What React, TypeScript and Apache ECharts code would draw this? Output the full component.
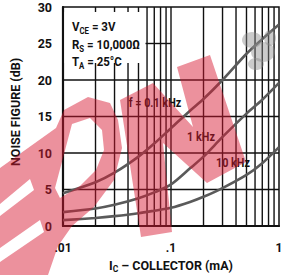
import { useEffect, useRef } from 'react';
import * as echarts from 'echarts';

// Collector current (mA) sample points
const currentMA = [0.01, 0.02, 0.03, 0.05, 0.07, 0.1, 0.15, 0.2, 0.3, 0.5, 0.7, 1];
// Noise figure (dB) per frequency
const nf01kHz = [4.5, 6.0, 7.3, 9.5, 11.3, 13.4, 15.8, 17.4, 20.0, 23.6, 25.6, 27.6];
const nf1kHz = [1.9, 2.4, 2.9, 3.8, 4.6, 5.7, 7.9, 9.5, 12.2, 15.4, 17.3, 19.6];
const nf10kHz = [0.8, 1.1, 1.35, 1.75, 2.1, 2.5, 3.3, 4.0, 5.2, 7.0, 8.6, 10.8];

// grid values
const xGridLines = [0.02, 0.03, 0.04, 0.05, 0.06, 0.07, 0.08, 0.09, 0.1, 0.2, 0.3, 0.4, 0.5, 0.6, 0.7, 0.8, 0.9];
const yGridFull = [5, 10, 15, 20];
const yGridPartial = { value: 25, from: 0.057, to: 0.1 };
const xTickLabels: Record<string, string> = { '-2': '.01', '-1': '.1', '0': '1' };

const FONT = "Roboto,'Liberation Sans',Arial,sans-serif";
const INK = '#111';
const CURVE = '#5a5a5a';
const WM = 'rgb(215,25,50)';
const WM_OP = 0.48;

const toPts = (ys: number[]) => currentMA.map((x, i) => [x, ys[i]]);

// grid line segments [x1, y1, x2, y2] built from the grid value lists
const gridSegments = [
  ...xGridLines.map((v) => [v, 0, v, 30]),
  ...yGridFull.map((v) => [0.01, v, 1, v]),
  [yGridPartial.from, yGridPartial.value, yGridPartial.to, yGridPartial.value],
];

export default function App() {
  const ref = useRef<HTMLDivElement>(null);
  useEffect(() => {
    document.body.style.margin = '0';
    const chart = echarts.init(ref.current!, undefined, { renderer: 'svg' });
    const rich = {
      a: { fontFamily: FONT, fontWeight: 'bold', fontSize: 12.5, lineHeight: 16, color: INK },
      s: { fontFamily: FONT, fontWeight: 'bold', fontSize: 8.5, lineHeight: 8, verticalAlign: 'bottom', color: INK },
    };
    const curveSeries = (name: string, ys: number[]) => ({
      name,
      type: 'line',
      data: toPts(ys),
      smooth: 0.3,
      showSymbol: false,
      z: 4,
      lineStyle: { color: CURVE, width: 2.6 },
    });
    const txt = (text: string, x: number, y: number) => ({
      type: 'text',
      x,
      y,
      z: 11,
      scaleX: 0.92,
      silent: true,
      style: {
        text,
        rich,
        font: `bold 12.5px ${FONT}`,
        fill: INK,
        align: 'left',
        verticalAlign: 'middle',
      },
    });
    const center = (text: string, x: number, y: number, rotation = 0, size = 12, sx = 0.9) => ({
      type: 'text',
      x,
      y,
      z: 11,
      rotation,
      scaleX: sx,
      silent: true,
      style: {
        text,
        font: `bold ${size}px ${FONT}`,
        fill: INK,
        align: 'center',
        verticalAlign: 'middle',
      },
    });
    const poly = (points: number[][]) => ({
      type: 'polygon',
      z: 20,
      silent: true,
      shape: { points },
      style: { fill: WM, opacity: WM_OP },
    });
    const blob = (cx: number, cy: number, rx: number, ry: number) => ({
      type: 'ellipse',
      z: 19,
      silent: true,
      shape: { cx, cy, rx, ry },
      style: { fill: '#8c8c8c', opacity: 0.45 },
    });

    const option = {
      animation: false,
      grid: {
        left: 63,
        right: 2,
        top: 7,
        bottom: 49,
        containLabel: false,
        outerBoundsMode: 'none',
        show: true,
        backgroundColor: 'transparent',
        borderColor: INK,
        borderWidth: 1.5,
      },
      xAxis: {
        type: 'log',
        logBase: 10,
        min: 0.01,
        max: 1,
        name: '{a|I}{s|C}{a| – COLLECTOR (mA)}',
        nameLocation: 'middle',
        nameGap: 31,
        nameTextStyle: { rich },
        axisLine: { show: true, lineStyle: { color: INK, width: 2.2 } },
        axisTick: { show: false },
        splitLine: { show: false },
        axisLabel: {
          margin: 16,
          fontFamily: FONT,
          fontWeight: 'bold',
          fontSize: 12,
          color: INK,
          formatter: (v: number) => xTickLabels[String(Math.round(Math.log10(v)))] ?? '',
        },
      },
      yAxis: {
        type: 'value',
        min: 0,
        max: 30,
        interval: 5,
        axisLine: { show: true, lineStyle: { color: INK, width: 2.2 } },
        axisTick: { show: false },
        splitLine: { show: false },
        axisLabel: { margin: 11, fontFamily: FONT, fontWeight: 'bold', fontSize: 12.5, color: INK },
      },
      series: [
        {
          type: 'custom',
          z: 3,
          data: gridSegments,
          encode: { x: [0, 2], y: [1, 3] },
          renderItem: (_p: any, api: any) => {
            const a = api.coord([api.value(0), api.value(1)]);
            const b = api.coord([api.value(2), api.value(3)]);
            return {
              type: 'line',
              shape: { x1: a[0], y1: a[1], x2: b[0], y2: b[1] },
              style: { stroke: INK, lineWidth: 1.4 },
            };
          },
        },
        curveSeries('f = 0.1 kHz', nf01kHz),
        curveSeries('1 kHz', nf1kHz),
        curveSeries('10 kHz', nf10kHz),
      ],
      graphic: [
        { type: 'rect', z: 10, silent: true, shape: { x: 64.5, y: 12, width: 81, height: 51 }, style: { fill: '#fff' } },
        txt('{a|V}{s|CE}{a| = 3V}', 72, 27),
        txt('{a|R}{s|S}{a| = 10,000Ω}', 72, 45),
        txt('{a|T}{s|A}{a| = 25°C}', 72, 62),
        center('NOISE FIGURE (dB)', 15, 112, Math.PI / 2, 12.5, 1),
        center('f = 0.1 kHz', 155, 103),
        center('1 kHz', 201, 137),
        center('10 kHz', 233, 163),
        blob(252, 40, 10, 8),
        blob(263, 52, 12, 10),
        blob(256, 64, 8, 6),
        blob(270, 38, 6, 8),
        // watermark: left letters (with notches and counter)
        poly([
          [0, 168], [56, 128], [64, 110],
          [72, 124], [55, 188], [60, 198], [80, 186], [96, 170], [104, 150], [102, 130], [90, 118], [72, 124],
          [64, 110], [88, 97], [110, 103], [118, 120], [122, 148], [114, 180], [94, 207], [72, 226], [58, 246], [48, 275],
          [0, 275], [0, 262], [44, 232], [40, 220], [0, 248], [0, 216], [34, 190], [30, 179], [0, 204],
        ]),
        // watermark: N
        poly([
          [120, 100], [153, 83], [193, 127], [177, 67], [210, 55], [246, 162], [207, 183], [163, 143], [172, 232], [141, 237],
        ]),
      ],
    };
    chart.setOption(option as any);
    return () => chart.dispose();
  }, []);
  return <div ref={ref} style={{ width: 281, height: 275 }} />;
}
